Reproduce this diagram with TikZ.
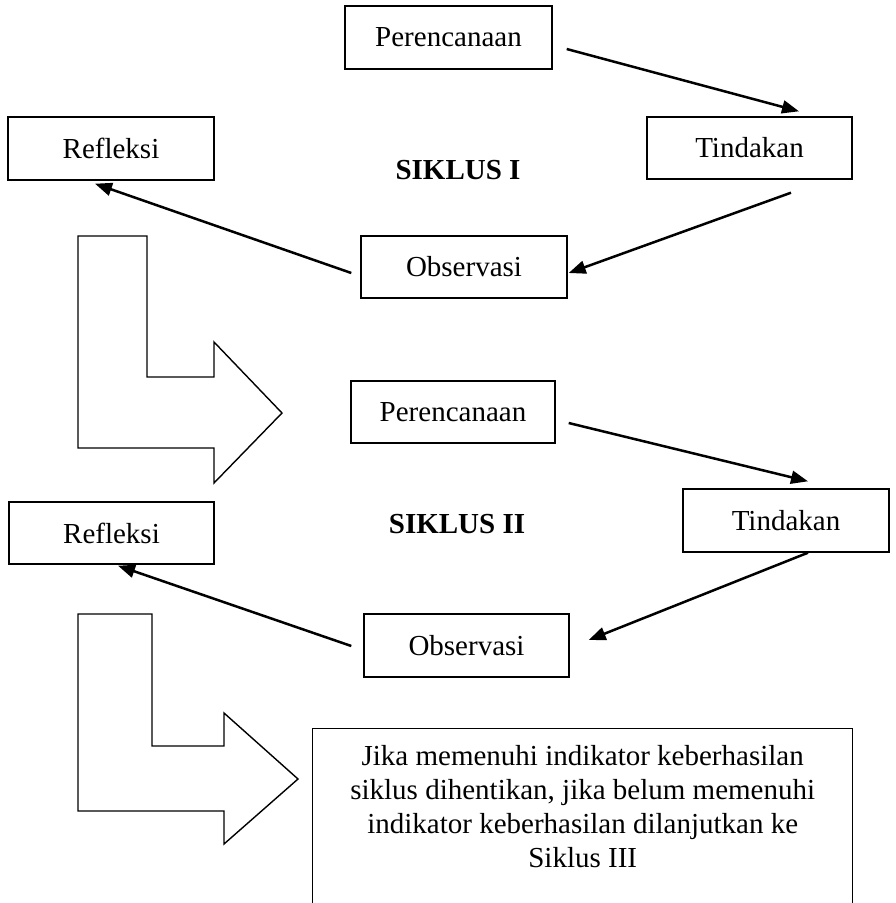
\documentclass[tikz,border=0pt]{standalone}
\usepackage{fontspec}
\setmainfont{Liberation Serif}
\usetikzlibrary{calc,arrows.meta}
\tikzset{
  box/.style={draw, line width=1.4pt, minimum width=206pt, minimum height=62pt, inner sep=0pt,
    font=\fontsize{29pt}{34pt}\selectfont},
  flow/.style={line width=2.5pt, -{Triangle[length=17pt,width=13pt]}},
  bigarrow/.style={draw, line width=1.4pt},
  title/.style={font=\fontsize{29pt}{34pt}\selectfont\bfseries, inner sep=0pt, anchor=base}
}
\begin{document}
\begin{tikzpicture}[x=1pt,y=-1pt]
\useasboundingbox (0,0) rectangle (896,903);
\clip (0,0) rectangle (896,903);
% Siklus I
\node[box, minimum width=207pt, minimum height=63pt] (P1) at (448.5,37.5) {Perencanaan};
\node[box, minimum width=205pt] (T1) at (749.5,148) {Tindakan};
\node[box, minimum height=63pt] (R1) at (111,148.5) {Refleksi};
\node[box] (O1) at (464,267) {Observasi};
\node[title] (S1) at (458,179) {SIKLUS I};
\draw[flow] ($(P1.east)+(14,11.5)$) -- ($(T1.north)+(49.5,-5)$);
\draw[flow] ($(T1.south)+(41.5,13)$) -- ($(O1.east)+(1,6)$);
\draw[flow] ($(O1.west)+(-9,6)$) -- ($(R1.south)+(-16,3)$);
% L-arrow 1
\draw[bigarrow] (78,236) -- (147,236) -- (147,377) -- (214,377) -- (214,342) -- (282,413)
  -- (214,483) -- (214,448) -- (78,448) -- cycle;
% Siklus II
\node[box, minimum width=204pt] (P2) at (453,412) {Perencanaan};
\node[box, minimum height=63pt] (T2) at (786,520.5) {Tindakan};
\node[box, minimum width=205pt] (R2) at (111.5,533) {Refleksi};
\node[box, minimum width=205pt, minimum height=63pt] (O2) at (466.5,645.5) {Observasi};
\node[title] (S2) at (457,533) {SIKLUS II};
\draw[flow] ($(P2.east)+(13,11)$) -- ($(T2.north)+(22,-7)$);
\draw[flow] ($(T2.south)+(22,0)$) -- ($(O2.east)+(19,-5.5)$);
\draw[flow] ($(O2.west)+(-12,0.5)$) -- ($(R2.south)+(6.5,1)$);
% L-arrow 2
\draw[bigarrow] (78,614) -- (152,614) -- (152,746) -- (224,746) -- (224,713) -- (298,779)
  -- (224,844) -- (224,811) -- (78,811) -- cycle;
% Bottom box
\node[draw, line width=1.4pt, minimum width=540pt, minimum height=200pt, inner sep=0pt, anchor=north west] (B) at (312,728) {};
\node[anchor=north, inner sep=0pt, align=center, font=\fontsize{29pt}{34pt}\selectfont] (Btext) at ($(B.north)+(0,17)$)
  {Jika memenuhi indikator keberhasilan\\siklus dihentikan, jika belum memenuhi\\indikator keberhasilan dilanjutkan ke\\Siklus III};
\end{tikzpicture}
\end{document}
